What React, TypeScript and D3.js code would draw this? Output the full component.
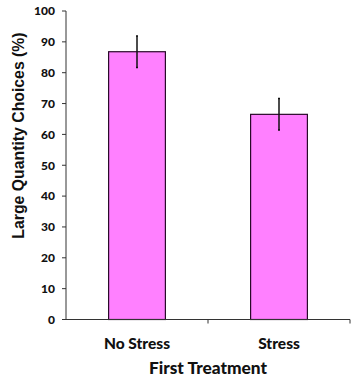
import React from "react";
import * as d3 from "d3";

const categories = ["No Stress", "Stress"];
const values = [86.8, 66.5];
const errors = [5.1, 5.1];
const yTicks = [0, 10, 20, 30, 40, 50, 60, 70, 80, 90, 100];

export default function App() {
  const W = 355, H = 388;
  const x0 = 66, x1 = 350, yTop = 11, yBot = 319.5;
  const x = d3.scaleBand<string>().domain(categories).range([x0, x1]).paddingInner(0.6).paddingOuter(0.3);
  const y = d3.scaleLinear().domain([0, 100]).range([yBot, yTop]);
  const font = "Lato, 'Open Sans', sans-serif";
  const mid = (x0 + x1) / 2;
  return (
    <svg width={W} height={H} style={{ position: "absolute", left: 0, top: 0, background: "#fff" }}>
      {categories.map((c, i) => {
        const bx = x(c)!;
        const cx = bx + x.bandwidth() / 2;
        return (
          <g key={c}>
            <rect x={bx} y={y(values[i])} width={x.bandwidth()} height={yBot - y(values[i])}
              fill="#FF80FF" stroke="#2a0a2a" strokeWidth={1.2} />
            <line x1={cx} x2={cx} y1={y(values[i] + errors[i])} y2={y(values[i] - errors[i])}
              stroke="#111" strokeWidth={1.5} />
            <line x1={cx - 1} x2={cx + 1} y1={y(values[i] + errors[i])} y2={y(values[i] + errors[i])} stroke="#111" strokeWidth={1.5} />
            <line x1={cx - 1} x2={cx + 1} y1={y(values[i] - errors[i])} y2={y(values[i] - errors[i])} stroke="#111" strokeWidth={1.5} />
            <text x={cx} y={349} textAnchor="middle" fontFamily={font} fontWeight={900} fontSize={15.5} fill="#111">{c}</text>
          </g>
        );
      })}
      <line x1={x0} x2={x0} y1={yTop} y2={yBot} stroke="#333" strokeWidth={1} />
      <line x1={x0} x2={x1} y1={yBot} y2={yBot} stroke="#333" strokeWidth={1} />
      <line x1={mid} x2={mid} y1={yBot} y2={yBot + 4} stroke="#333" strokeWidth={1} />
      <line x1={x1} x2={x1} y1={yBot} y2={yBot + 4} stroke="#333" strokeWidth={1} />
      {yTicks.map(t => (
        <g key={t}>
          <line x1={x0 - 4} x2={x0} y1={y(t)} y2={y(t)} stroke="#333" strokeWidth={1} />
          <text x={55} y={y(t)} dy="0.36em" textAnchor="end" fontFamily={font} fontWeight={900} fontSize={12} fill="#111">{t}</text>
        </g>
      ))}
      <text x={mid} y={374} textAnchor="middle" fontFamily={font} fontWeight={900} fontSize={17.3} fill="#111">First Treatment</text>
      <text transform={`translate(24,${(37 + 234) / 2}) rotate(-90)`} textAnchor="middle"
        fontFamily="'Liberation Sans', Arial, sans-serif" fontWeight={700} fontSize={15.8} fill="#111">Large Quantity Choices (%)</text>
    </svg>
  );
}
